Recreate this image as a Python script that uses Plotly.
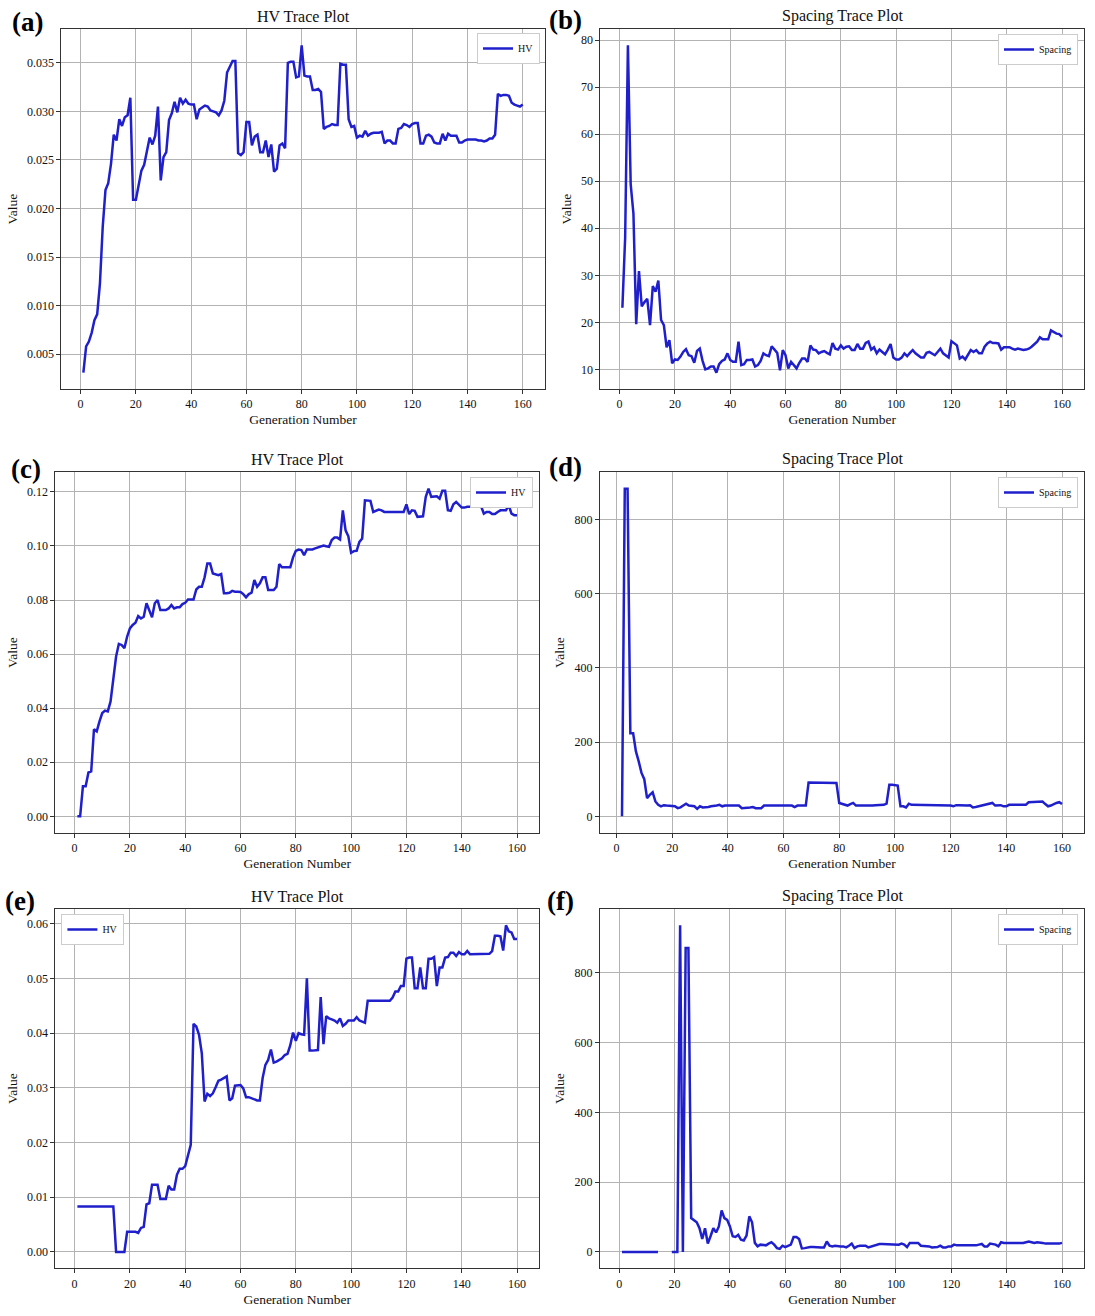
import plotly.graph_objects as go

# generation index shared by every panel
gens = list(range(1, 161))

# (a) HV trace, run 1
hv_a = [0.0031, 0.0058, 0.0063, 0.0072, 0.0085, 0.0091, 0.0123, 0.0181, 0.0219, 0.0226,
        0.0246, 0.0276, 0.0270, 0.0292, 0.0285, 0.0294, 0.0296, 0.0314, 0.0209, 0.0209,
        0.0224, 0.0239, 0.0245, 0.0259, 0.0273, 0.0266, 0.0275, 0.0305, 0.0229, 0.0253,
        0.0258, 0.0291, 0.0298, 0.0310, 0.0299, 0.0314, 0.0308, 0.0312, 0.0308, 0.0307,
        0.0307, 0.0292, 0.0302, 0.0304, 0.0306, 0.0305, 0.0301, 0.0300, 0.0299, 0.0296,
        0.0301, 0.0311, 0.0340, 0.0346, 0.0352, 0.0352, 0.0257, 0.0255, 0.0258, 0.0289,
        0.0289, 0.0265, 0.0274, 0.0276, 0.0258, 0.0258, 0.0270, 0.0253, 0.0266, 0.0238,
        0.0241, 0.0265, 0.0267, 0.0262, 0.0350, 0.0351, 0.0351, 0.0335, 0.0336, 0.0368,
        0.0337, 0.0336, 0.0336, 0.0322, 0.0322, 0.0323, 0.0320, 0.0282, 0.0284, 0.0285,
        0.0287, 0.0286, 0.0286, 0.0349, 0.0348, 0.0348, 0.0292, 0.0284, 0.0285, 0.0273,
        0.0275, 0.0274, 0.0280, 0.0275, 0.0277, 0.0278, 0.0278, 0.0278, 0.0279, 0.0267,
        0.0270, 0.0270, 0.0267, 0.0267, 0.0282, 0.0283, 0.0287, 0.0286, 0.0284, 0.0287,
        0.0288, 0.0288, 0.0267, 0.0267, 0.0275, 0.0276, 0.0274, 0.0268, 0.0267, 0.0267,
        0.0277, 0.0270, 0.0277, 0.0275, 0.0275, 0.0275, 0.0268, 0.0268, 0.0270, 0.0271,
        0.0271, 0.0271, 0.0271, 0.0270, 0.0270, 0.0269, 0.0270, 0.0272, 0.0272, 0.0276,
        0.0318, 0.0316, 0.0317, 0.0317, 0.0316, 0.0309, 0.0307, 0.0306, 0.0305, 0.0307]

# (b) Spacing trace, run 1
sp_b = [23.1, 38.0, 78.9, 49.4, 43.1, 19.6, 30.9, 23.4, 24.3, 25.0,
        19.4, 27.7, 26.5, 28.9, 20.5, 19.4, 14.7, 16.2, 11.3, 12.1,
        12.0, 12.7, 13.7, 14.3, 13.0, 12.8, 11.4, 13.9, 14.4, 11.8,
        10.0, 10.2, 10.6, 10.6, 9.3, 11.1, 11.8, 12.1, 13.4, 12.0,
        11.6, 11.6, 15.9, 10.9, 11.1, 12.0, 12.0, 12.1, 10.6, 10.9,
        11.8, 13.4, 13.0, 12.8, 14.9, 14.1, 13.5, 9.8, 14.1, 13.0,
        10.2, 11.6, 10.9, 10.2, 11.4, 12.3, 12.3, 11.6, 15.1, 14.2,
        14.1, 13.4, 13.7, 13.9, 13.5, 13.2, 15.6, 14.4, 14.2, 15.1,
        14.4, 14.8, 14.9, 14.1, 14.1, 15.4, 14.4, 14.4, 15.6, 15.9,
        14.2, 14.7, 13.4, 14.2, 13.7, 13.2, 14.2, 15.4, 12.5, 12.1,
        12.1, 12.5, 13.4, 12.8, 13.5, 14.1, 13.4, 13.0, 12.5, 12.5,
        13.5, 13.7, 13.4, 13.0, 13.7, 14.4, 13.4, 13.0, 12.5, 16.0,
        15.6, 15.1, 12.3, 12.7, 12.1, 13.0, 14.1, 13.7, 14.1, 13.4,
        13.4, 14.8, 15.5, 15.9, 15.6, 15.6, 15.5, 14.2, 14.7, 14.7,
        14.7, 14.4, 14.2, 14.4, 14.2, 14.1, 14.2, 14.4, 14.8, 15.4,
        15.9, 16.8, 16.4, 16.4, 16.4, 18.3, 18.0, 17.6, 17.5, 16.9]

# (c) HV trace, run 2
hv_c = [0.0, 0.0, 0.0111, 0.0111, 0.0162, 0.0166, 0.0322, 0.0314, 0.0351, 0.0382,
        0.0391, 0.0388, 0.0425, 0.0517, 0.0591, 0.0638, 0.0634, 0.0622, 0.0665, 0.0695,
        0.0708, 0.0716, 0.0741, 0.0732, 0.0738, 0.0788, 0.0761, 0.0736, 0.0788, 0.0800,
        0.0763, 0.0763, 0.0763, 0.0769, 0.0782, 0.0769, 0.0773, 0.0773, 0.0785, 0.0790,
        0.0802, 0.0802, 0.0802, 0.0839, 0.0849, 0.0849, 0.0884, 0.0935, 0.0935, 0.0898,
        0.0896, 0.0892, 0.0896, 0.0825, 0.0825, 0.0827, 0.0834, 0.0831, 0.0831, 0.0830,
        0.0822, 0.0810, 0.0822, 0.0827, 0.0874, 0.0849, 0.0862, 0.0884, 0.0884, 0.0837,
        0.0837, 0.0837, 0.0849, 0.0933, 0.0921, 0.0921, 0.0921, 0.0921, 0.0958, 0.0982,
        0.0987, 0.0985, 0.0966, 0.0987, 0.0987, 0.0987, 0.0991, 0.0994, 0.0999, 0.1002,
        0.0999, 0.0997, 0.1022, 0.1031, 0.1031, 0.1024, 0.1132, 0.1058, 0.1036, 0.0975,
        0.0981, 0.0982, 0.1015, 0.1028, 0.1169, 0.1169, 0.1167, 0.1126, 0.1132, 0.1135,
        0.1132, 0.1126, 0.1126, 0.1126, 0.1126, 0.1126, 0.1126, 0.1126, 0.1126, 0.1154,
        0.1118, 0.1132, 0.1130, 0.1108, 0.1108, 0.1110, 0.1182, 0.1212, 0.1182, 0.1184,
        0.1184, 0.1175, 0.1204, 0.1204, 0.1132, 0.1130, 0.1154, 0.1163, 0.1154, 0.1142,
        0.1142, 0.1145, 0.1145, 0.1147, 0.1150, 0.1150, 0.1147, 0.1120, 0.1126, 0.1126,
        0.1118, 0.1118, 0.1126, 0.1132, 0.1132, 0.1132, 0.1151, 0.1120, 0.1114, 0.1114]

# (d) Spacing trace, run 2 (first generation has no value)
sp_d = [None, 0, 883, 883, 224, 224, 175, 148, 117, 100,
        49, 58, 65, 40, 31, 27, 30, 29, 29, 27,
        27, 22, 24, 29, 34, 29, 27, 27, 20, 27,
        24, 24, 25, 27, 27, 29, 31, 27, 29, 29,
        29, 27, 27, 29, 22, 22, 22, 24, 25, 22,
        22, 22, 29, 29, 30, 31, 29, 29, 29, 29,
        29, 29, 29, 25, 29, 29, 29, 29, 91, 91,
        91, 91, 92, 92, 92, 92, 91, 90, 90, 36,
        34, 31, 29, 33, 36, 29, 29, 29, 27, 27,
        29, 29, 30, 30, 31, 31, 34, 85, 85, 83,
        83, 27, 27, 24, 34, 31, 31, 30, 30, 31,
        31, 31, 30, 30, 31, 30, 30, 29, 29, 29,
        27, 30, 30, 29, 29, 29, 30, 24, 25, 27,
        29, 31, 34, 34, 36, 29, 30, 30, 27, 27,
        31, 31, 33, 31, 33, 33, 31, 38, 38, 38,
        38, 39, 40, 33, 27, 29, 33, 36, 38, 33]

# (e) HV trace, run 3
hv_e = [0.0083, 0.0083, 0.0083, 0.0083, 0.0083, 0.0083, 0.0083, 0.0083, 0.0083, 0.0083,
        0.0083, 0.0083, 0.0083, 0.0083, 0.0, 0.0, 0.0, 0.0, 0.0037, 0.0037,
        0.0037, 0.0037, 0.0035, 0.0044, 0.0046, 0.0087, 0.0089, 0.0123, 0.0123, 0.0123,
        0.0097, 0.0097, 0.0097, 0.0121, 0.0114, 0.0114, 0.0141, 0.0152, 0.0152, 0.0157,
        0.0175, 0.0196, 0.0417, 0.0412, 0.0397, 0.0363, 0.0275, 0.0289, 0.0285, 0.0290,
        0.0301, 0.0313, 0.0315, 0.0318, 0.0321, 0.0277, 0.0281, 0.0304, 0.0305, 0.0305,
        0.0299, 0.0283, 0.0283, 0.0281, 0.0278, 0.0277, 0.0277, 0.0318, 0.0342, 0.0351,
        0.0370, 0.0346, 0.0348, 0.0351, 0.0354, 0.0360, 0.0362, 0.0378, 0.0401, 0.0386,
        0.0400, 0.0398, 0.0397, 0.0500, 0.0368, 0.0368, 0.0369, 0.0369, 0.0466, 0.0380,
        0.0431, 0.0427, 0.0425, 0.0423, 0.0419, 0.0427, 0.0413, 0.0417, 0.0423, 0.0423,
        0.0423, 0.0429, 0.0423, 0.0421, 0.0419, 0.0459, 0.0459, 0.0459, 0.0459, 0.0459,
        0.0459, 0.0459, 0.0459, 0.0459, 0.0465, 0.0476, 0.0476, 0.0486, 0.0486, 0.0536,
        0.0538, 0.0538, 0.0482, 0.0482, 0.0520, 0.0482, 0.0482, 0.0536, 0.0536, 0.0539,
        0.0486, 0.0520, 0.0520, 0.0538, 0.0539, 0.0547, 0.0547, 0.0541, 0.0548, 0.0544,
        0.0544, 0.0550, 0.0544, 0.0544, 0.0544, 0.0545, 0.0545, 0.0545, 0.0545, 0.0545,
        0.0550, 0.0578, 0.0578, 0.0577, 0.0551, 0.0597, 0.0586, 0.0584, 0.0572, 0.0572]

# (f) Spacing trace, run 3 (gap where no value was recorded)
sp_f = [0, 0, 0, 0, 0, 0, 0, 0, 0, 0,
        0, 0, 0, 0, None, None, None, None, 0, 0,
        0, 936, 0, 871, 871, 97, 92, 85, 68, 37,
        68, 24, 45, 68, 56, 73, 119, 97, 92, 73,
        45, 43, 49, 35, 33, 47, 102, 85, 26, 16,
        21, 21, 19, 24, 28, 21, 11, 9, 18, 14,
        18, 21, 43, 43, 37, 10, 11, 13, 14, 14,
        13, 14, 13, 13, 30, 18, 16, 18, 16, 16,
        16, 13, 18, 24, 11, 16, 18, 18, 18, 13,
        16, 18, 21, 23, 23, 23, 21, 21, 21, 21,
        21, 24, 21, 14, 26, 26, 26, 26, 18, 18,
        18, 16, 13, 14, 14, 18, 13, 13, 16, 16,
        21, 19, 19, 19, 18, 18, 19, 19, 19, 21,
        23, 16, 16, 24, 23, 21, 16, 28, 26, 26,
        26, 26, 26, 26, 24, 26, 28, 30, 28, 26,
        28, 28, 26, 24, 24, 23, 23, 24, 24, 26]

W, H = 1095, 1316
FONT = "Times New Roman, Liberation Serif, serif"
LINE = "#1f1fcc"


def padded(vals):
    v = [x for x in vals if x is not None]
    lo, hi = min(v), max(v)
    m = (hi - lo) * 0.05
    return [lo - m, hi + m]


def px_x(p):
    return p / W


def px_y(p):
    return 1 - p / H


# panel name, series, legend name, title, plot box in pixels (left, right, top, bottom),
# y tick step, y tick format, legend corner
panels = [
    ("a", hv_a, "HV", "HV Trace Plot", (61.4, 544.7, 29, 389), 0.005, ".3f", "right", (540, 33)),
    ("b", sp_b, "Spacing", "Spacing Trace Plot", (600.4, 1084, 29, 389), 10, "d", "right", (1078, 34)),
    ("c", hv_c, "HV", "HV Trace Plot", (55.4, 539, 472.3, 832.7), 0.02, ".2f", "right", (533, 477)),
    ("d", sp_d, "Spacing", "Spacing Trace Plot", (600, 1084, 472.3, 832.7), 200, "d", "right", (1078, 477)),
    ("e", hv_e, "HV", "HV Trace Plot", (55.4, 539, 909, 1268.3), 0.01, ".2f", "left", (61.4, 914)),
    ("f", sp_f, "Spacing", "Spacing Trace Plot", (600, 1084, 909, 1268.3), 200, "d", "right", (1078, 914)),
]
label_pos = {"a": (10, 22), "b": (547, 20), "c": (9, 469), "d": (547, 467), "e": (3, 901), "f": (545, 901)}

fig = go.Figure()
layout = {}
annotations = []

for i, (key, ys, name, title, box, step, fmt, lside, lpos) in enumerate(panels, start=1):
    sfx = "" if i == 1 else str(i)
    left, right, top, bottom = box
    xs_valid = [g for g, y in zip(gens, ys) if y is not None]
    fig.add_trace(go.Scatter(
        x=gens, y=ys, mode="lines", name=name,
        line=dict(color=LINE, width=2.5),
        xaxis="x" + sfx, yaxis="y" + sfx,
        legend="legend" + sfx,
    ))
    common = dict(
        showline=True, mirror=True, linecolor="#333333", linewidth=1,
        showgrid=True, gridcolor="#b3b3b3", gridwidth=1,
        ticks="outside", ticklen=4, tickcolor="#333333",
        tickfont=dict(family=FONT, size=12, color="#111111"),
        zeroline=False,
    )
    layout["xaxis" + sfx] = dict(
        common, domain=[px_x(left), px_x(right)], anchor="y" + sfx,
        range=padded(xs_valid), tick0=0, dtick=20,
        title=dict(text="Generation Number", font=dict(family=FONT, size=13.5, color="#111111"), standoff=4),
    )
    layout["yaxis" + sfx] = dict(
        common, domain=[px_y(bottom), px_y(top)], anchor="x" + sfx,
        range=padded(ys), tick0=0, dtick=step, tickformat=fmt,
        title=dict(text="Value", font=dict(family=FONT, size=13.5, color="#111111"), standoff=6),
    )
    layout["legend" + sfx] = dict(
        x=px_x(lpos[0]), y=px_y(lpos[1]), xanchor=lside, yanchor="top",
        bgcolor="white", bordercolor="#cccccc", borderwidth=1,
        font=dict(family=FONT, size=10, color="#111111"),
    )
    annotations.append(dict(
        text=title, x=(px_x(left) + px_x(right)) / 2, y=px_y(top - 13),
        xref="paper", yref="paper", xanchor="center", yanchor="middle",
        showarrow=False, font=dict(family=FONT, size=16, color="#111111"),
    ))
    lx, ly = label_pos[key]
    annotations.append(dict(
        text="<b>(%s)</b>" % key, x=px_x(lx), y=px_y(ly),
        xref="paper", yref="paper", xanchor="left", yanchor="middle",
        showarrow=False, font=dict(family=FONT, size=27, color="black"),
    ))

fig.update_layout(
    width=W, height=H,
    margin=dict(l=0, r=0, t=0, b=0),
    paper_bgcolor="white", plot_bgcolor="white",
    showlegend=True,
    annotations=annotations,
    **layout,
)

# drop the page's default body margin so the figure sits at the window corner
fig.write_html(
    "out.html",
    config={"displayModeBar": False},
    post_script="document.body.style.margin='0px';document.body.style.overflow='hidden';",
)
